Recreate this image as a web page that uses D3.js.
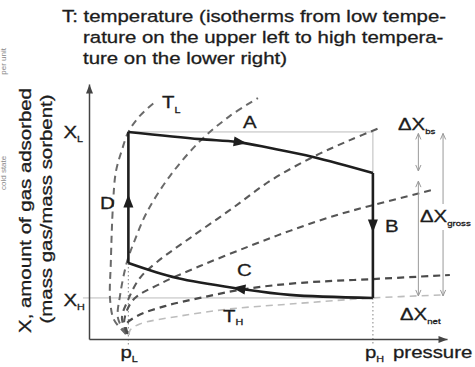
<!DOCTYPE html>
<html>
<head>
<meta charset="utf-8">
<script src="https://cdn.jsdelivr.net/npm/d3@7"></script>
<style>
  html, body { margin: 0; padding: 0; background: #fff; }
  svg { display: block; font-family: "Liberation Sans", Arial, sans-serif; }
</style>
</head>
<body>
<svg id="chart" width="475" height="367"></svg>
<script>
// Adsorption cycle drawn in the loading (X) versus pressure (p) plane.

// Characteristic pressures and loadings (arbitrary units, 0..100)
const pL = 11, pH = 79.3;
const XL = 81.2, XH = 16.1, XA = 65.1, XD = 29.8;

const titleLines = [
  "T: temperature (isotherms from low tempe-",
  "rature on the upper left to high tempera-",
  "ture on the lower right)"
];
const yTitle = ["X, amount of gas adsorbed", "(mass gas/mass sorbent)"];
const marginNotes = ["per unit", "cold state"];

// Cycle legs [p, X]
const cycleA = [[pL, XL], [31, 78.4], [41.3, 77.3], [50.6, 74.9], [62.6, 71.4], [pH, XA]];
const cycleB = [[pH, XA], [pH, XH]];
const cycleC = [[pH, XH], [56.1, 17.3], [42.7, 19.6], [24.6, 23.9], [pL, XD]];
const cycleD = [[pL, XD], [pL, XL]];
const legNames = ["A", "B", "C", "D"];

// Isotherms, coldest (T_L) to hottest (T_H)
const isoTL = [[10.3, 2.0], [7.0, 7.5], [5.9, 15.3], [6.1, 30.2], [6.7, 52.5], [7.5, 65.5], [9.2, 74.1], [pL, XL], [14.2, 87.5], [18.4, 92.9]];
const iso2  = [[10.3, 2.0], [8.1, 8.2], [8.7, 17.3], [10.6, 30.2], [12.8, 38.8], [16.2, 49.8], [22.6, 63.9], [31.0, 77.6], [39.4, 87.5], [47.2, 94.5]];
const iso3  = [[10.6, 2.0], [9.2, 8.2], [10.9, 15.3], [14.2, 23.9], [19.0, 30.2], [28.2, 39.6], [39.4, 50.6], [50.6, 62.0], [62.6, 71.4], [72.9, 78.0], [81.8, 83.1]];
const iso4  = [[10.6, 2.0], [9.8, 6.7], [12.3, 15.3], [19.8, 21.6], [31.0, 28.6], [45.0, 36.5], [56.1, 42.4], [67.3, 47.8], [pH, 52.5], [95.8, 58.4]];
const iso5  = [[10.9, 2.0], [10.3, 5.5], [13.4, 9.0], [21.2, 12.9], [31.0, 16.1], [43.6, 19.6], [58.9, 22.0], [pH, 23.5], [100.8, 25.1]];
const isoTH = [[11.2, 1.6], [11.5, 3.5], [14.2, 5.9], [25.4, 9.0], [39.4, 11.8], [56.1, 13.7], [pH, XH], [98.9, 17.3]];

// Loading swings
const swingNames = ["ΔX", "ΔX", "ΔX"];
const swingSubs = ["bs", "net", "gross"];

const svg = d3.select("#chart");
const ink = "#1c1c1c";
const FS = 17, SX = 1.2;

const x = d3.scaleLinear().domain([0, 100]).range([89, 447]);
const y = d3.scaleLinear().domain([0, 100]).range([339, 84]);
const line = d3.line().x(d => x(d[0])).y(d => y(d[1]));
const smooth = d3.line().x(d => x(d[0])).y(d => y(d[1])).curve(d3.curveCatmullRom.alpha(0.5));

// markers
const defs = svg.append("defs");
defs.append("marker").attr("id", "axisHead")
  .attr("viewBox", "-10 -5 11 10").attr("refX", 0).attr("refY", 0)
  .attr("markerUnits", "userSpaceOnUse").attr("markerWidth", 11).attr("markerHeight", 10)
  .attr("orient", "auto")
  .append("path").attr("d", "M-9,-3.5L0,0L-9,3.5Z").attr("fill", "#444");
defs.append("marker").attr("id", "chev")
  .attr("viewBox", "-8 -5 9 10").attr("refX", 0).attr("refY", 0)
  .attr("markerUnits", "userSpaceOnUse").attr("markerWidth", 9).attr("markerHeight", 10)
  .attr("orient", "auto-start-reverse")
  .append("path").attr("d", "M-6,-2.6L0,0L-6,2.6").attr("fill", "none")
  .attr("stroke", "#999").attr("stroke-width", 1);

// text helper: pieces are [string, isSubscript]
function say(px, py, pieces, o = {}) {
  const t = svg.append("text")
    .attr("transform", `translate(${px},${py})` + (o.rot ? ` rotate(${o.rot})` : "") + ` scale(${o.sx || SX},1)`)
    .attr("font-size", o.size || FS)
    .attr("fill", o.fill || ink)
    .attr("stroke", o.fill || ink).attr("stroke-width", o.weight === undefined ? 0.3 : o.weight)
    .attr("text-anchor", o.anchor || "start");
  let down = false;
  pieces.forEach(([s, sub]) => {
    const ts = t.append("tspan").text(s);
    if (sub) {
      ts.attr("font-size", o.subSize || 9);
      if (!down) { ts.attr("dy", o.subDy || 4); down = true; }
    } else if (down) { ts.attr("dy", -(o.subDy || 4)); down = false; }
  });
  return t;
}

// title
titleLines.forEach((s, i) => say(i === 0 ? 62 : 83, 22 + i * 20.8, [[s]]));

// notes cut off at the left margin
say(6, 48, [[marginNotes[0]]], { rot: -90, anchor: "end", size: 8, sx: 1, fill: "#888", weight: 0 });
say(6, 190, [[marginNotes[1]]], { rot: -90, anchor: "start", size: 8, sx: 1, fill: "#888", weight: 0 });

// reference lines
const refs = svg.append("g").attr("stroke", "#bbb").attr("stroke-width", 1).attr("fill", "none");
refs.append("path").attr("d", line([[-1.7, XH], [pH, XH]]));
refs.append("path").attr("d", line([[pL, XL], [pH, XL], [pH, XA]]));
const dots = svg.append("g").attr("stroke", "#999").attr("stroke-width", 1.2)
  .attr("stroke-dasharray", "1.5,2.5").attr("fill", "none");
dots.append("path").attr("d", line([[pL, XD], [pL, -2.5]]));
dots.append("path").attr("d", line([[pH, XH], [pH, -2.5]]));

// isotherms
const isoStyles = [
  { d: isoTL, c: "#6a6a6a", w: 2 },
  { d: iso2, c: "#6a6a6a", w: 2 },
  { d: iso3, c: "#5a5a5a", w: 2.1 },
  { d: iso4, c: "#555", w: 2.1 },
  { d: iso5, c: "#4a4a4a", w: 2.2 },
  { d: isoTH, c: "#bdbdbd", w: 1.6 }
];
svg.append("g").attr("fill", "none").selectAll("path").data(isoStyles).join("path")
  .attr("d", s => smooth(s.d))
  .attr("stroke", s => s.c).attr("stroke-width", s => s.w)
  .attr("stroke-dasharray", "7,5");

// axes
const xAxis = svg.append("g").attr("transform", `translate(0,${y(0)})`)
  .call(d3.axisBottom(x).tickValues([]).tickSizeOuter(0));
const yAxis = svg.append("g").attr("transform", `translate(${x(0)},0)`)
  .call(d3.axisLeft(y).tickValues([]).tickSizeOuter(0));
[xAxis, yAxis].forEach(a => a.select(".domain")
  .attr("stroke", "#444").attr("stroke-width", 1.5).attr("marker-end", "url(#axisHead)"));

// cycle
const legs = [cycleA, cycleB, cycleC, cycleD];
const cyc = svg.append("g");
const legPaths = cyc.selectAll("path.leg").data(legs).join("path").attr("class", "leg")
  .attr("d", d => (d.length > 2 ? smooth : line)(d))
  .attr("fill", "none").attr("stroke", "#1e1e1e").attr("stroke-width", 2.6)
  .attr("stroke-linejoin", "miter");
const headAt = [0.45, 0.42, 0.54, 0.47];
legPaths.each(function (d, i) {
  const L = this.getTotalLength(), at = L * headAt[i];
  const p0 = this.getPointAtLength(at - 1), p1 = this.getPointAtLength(at + 1);
  const ang = Math.atan2(p1.y - p0.y, p1.x - p0.x) * 180 / Math.PI;
  const pm = this.getPointAtLength(at);
  cyc.append("path").attr("d", "M7,0L-6,-5L-6,5Z").attr("fill", "#1e1e1e")
    .attr("transform", `translate(${pm.x},${pm.y}) rotate(${ang})`);
});

// loading swings
const swings = [
  [92, XL, XA], [92, XA - 2.6, XH], [98.9, XL, XH]
];
svg.append("g").selectAll("line").data(swings).join("line")
  .attr("x1", d => x(d[0])).attr("x2", d => x(d[0]))
  .attr("y1", d => y(d[1]) + 1.5).attr("y2", d => y(d[2]) - 2)
  .attr("stroke", "#999").attr("stroke-width", 1)
  .attr("marker-start", "url(#chev)").attr("marker-end", "url(#chev)");

// labels
say(x(pL) - 65, y(XL) + 6, [["X"], ["L", true]]);
say(x(pL) - 65, y(XH) + 8, [["X"], ["H", true]]);
say(x(pL) - 8, 358, [["p"], ["L", true]]);
say(x(pH) - 8, 358, [["p"], ["H", true]]);
say(393, 358, [["pressure"]]);
say(162, 108, [["T"], ["L", true]], { subDy: 5 });
say(223, 322, [["T"], ["H", true]], { subDy: 3 });
const legLabelAt = [[243, 128], [385, 232], [237, 276], [100, 209]];
legNames.forEach((n, i) => say(legLabelAt[i][0], legLabelAt[i][1], [[n]]));

say(398, 130, [[swingNames[0]], [swingSubs[0], true]], { subSize: 8 });
svg.append("rect").attr("x", 420).attr("y", 204).attr("width", 54).attr("height", 26).attr("fill", "#fff");
say(420, 222, [[swingNames[2]], [swingSubs[2], true]], { subSize: 8 });
say(400, 320, [[swingNames[1]], [swingSubs[1], true]], { subSize: 8 });

// y-axis title
say(30.5, 210.5, [[yTitle[0]]], { rot: -90, anchor: "middle" });
say(51.5, 209, [[yTitle[1]]], { rot: -90, anchor: "middle" });
</script>
</body>
</html>
